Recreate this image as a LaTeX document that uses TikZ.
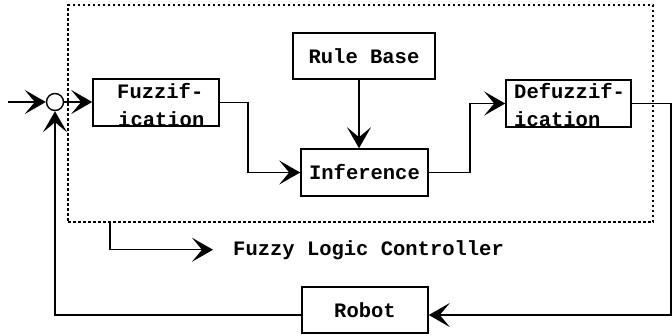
\documentclass[tikz,border=0pt]{standalone}
\usepackage{fontspec}
\setmonofont{Liberation Mono}
\usetikzlibrary{arrows.meta,calc}
\begin{document}
\begin{tikzpicture}[x=1pt,y=-1pt,
  txtfont/.style={font=\ttfamily\bfseries\fontsize{20.5}{24}\selectfont},
  box/.style={draw, line width=1.6pt, inner sep=0pt, txtfont},
  lbl/.style={inner sep=0pt, anchor=base west, txtfont},
  conn/.style={line width=1.5pt},
  arr/.style={conn, -{Stealth[length=21pt,width=24pt,inset=10pt]}},
]
\useasboundingbox (0,0) rectangle (672,335);
% dotted controller frame
\node[draw, dash pattern=on 2.5pt off 2.5pt, line width=1.1pt, inner sep=0pt,
      minimum width=585pt, minimum height=217pt] (flc) at (360.5,113.5) {};
% summing junction
\node[circle, draw, line width=1.4pt, minimum size=17pt, inner sep=0pt] (sum) at (55,102) {};
\coordinate (in) at (8,102);
% blocks
\node[box, minimum width=126pt, minimum height=47pt] (fuzz) at (156,102.5) {};
\node[lbl] (fuzzA) at (117,98) {Fuzzif-};
\node[lbl] (fuzzB) at (118,126) {ication};
\node[box, minimum width=142pt, minimum height=46pt] (rule) at (364,56) {Rule Base};
\node[box, minimum width=127pt, minimum height=47pt] (inf) at (364.5,172.5) {Inference};
\node[box, minimum width=125pt, minimum height=47pt] (defuzz) at (568.5,103.5) {};
\node[lbl] (defA) at (514,98) {Defuzzif-};
\node[lbl] (defB) at (514,126) {ication};
\node[box, minimum width=126pt, minimum height=46pt] (robot) at (365,310) {Robot};
% label
\node[lbl] (flct) at (233,255) {Fuzzy Logic Controller};
\coordinate (fa) at (110,222);
\coordinate (re) at (671,315);
% connectors
\draw[arr] (in) -- (sum.west);
\draw[arr] (sum.east) -- (sum.east -| fuzz.west);
\draw[arr] (fuzz.east) -- ++(28,0) |- (inf.west);
\draw[arr] ($(rule.south)+(-5,0)$) -- ($(inf.north)+(-5.5,0)$);
\draw[arr] (inf.east) -- ++(41,0) |- (defuzz.west);
\draw[arr] (defuzz.east) -| (re) -- (robot.east |- re);
\draw[arr] (robot.west |- re) -| (sum.south);
\draw[arr] (fa) |- ($(flct.west)+(-20,0)$);
\end{tikzpicture}
\end{document}
